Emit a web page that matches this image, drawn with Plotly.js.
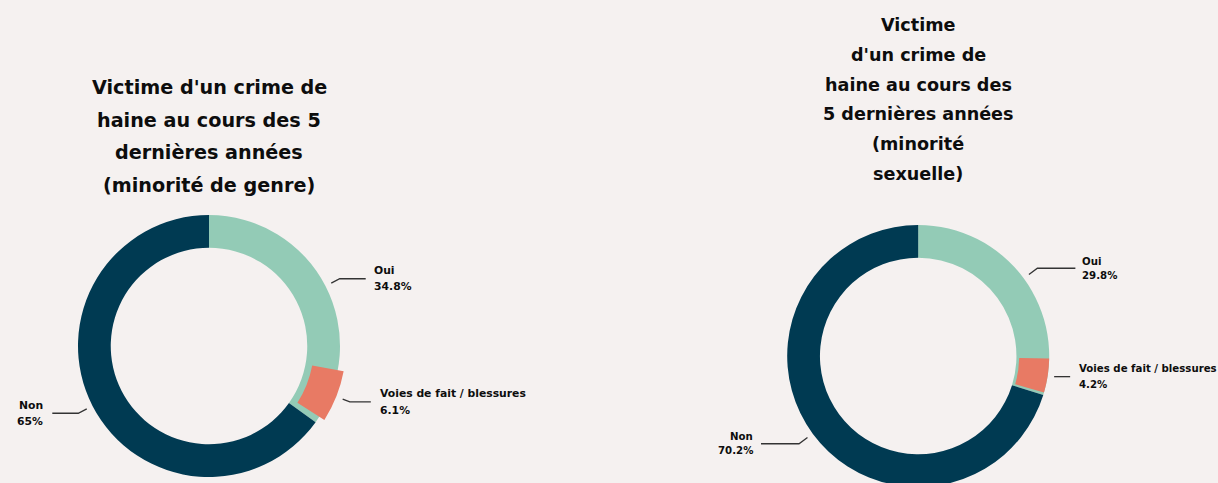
<!DOCTYPE html>
<html>
<head>
<meta charset="utf-8">
<script src="https://cdn.plot.ly/plotly-3.0.1.min.js"></script>
<style>
html,body{margin:0;padding:0;background:#f5f1f0;overflow:hidden;}
#chart{width:1218px;height:490px;}
</style>
</head>
<body>
<div id="chart"></div>
<script>
// ---- data ----
const categories = ['Oui', 'Non'];
const subCategory = 'Voies de fait / blessures';
const genreValues = [34.8, 65];
const genreSub = 6.1;
const sexuelleValues = [29.8, 70.2];
const sexuelleSub = 4.2;
const genreTitle = ["Victime d'un crime de", "haine au cours des 5", "dernières années", "(minorité de genre)"];
const sexuelleTitle = ["Victime", "d'un crime de", "haine au cours des", "5 dernières années", "(minorité", "sexuelle)"];

// ---- style ----
const W = 1218, H = 490;
const COL = {oui: '#93cbb6', non: '#003a52', sub: '#e87a64', text: '#0d0d0d', line: '#333333', bg: '#f5f1f0'};
const FONT = 'DejaVu Sans, Verdana, sans-serif';
const px = x => x / W;
const py = y => 1 - y / H;

const charts = [
  {values: genreValues, sub: genreSub, title: genreTitle,
   cx: 209, cy: 346, R: 131, hole: 0.75, subR: 137, subInner: 105, gap: 0.8,
   titleY0: 88, titleStep: 32.5, titleSize: 19.2, labelSize: 10.8,
   leaders: [{so: 6.5, eo: 16, h: 26, g: 6.5, d: 8}, {so: 6.5, eo: 16, h: 26, g: 7, d: 8}, {so: 6.8, eo: 14.5, h: 21, g: 7, d: 8.5}]},
  {values: sexuelleValues, sub: sexuelleSub, title: sexuelleTitle,
   cx: 918.2, cy: 356, R: 131, hole: 0.75, subR: 131, subInner: 101, gap: 0.3,
   titleY0: 25, titleStep: 29.8, titleSize: 17.6, labelSize: 10.2,
   leaders: [{so: 6.5, eo: 17, h: 38, g: 5, d: 7}, {so: 6.5, eo: 17, h: 38, g: 6.5, d: 7}, {so: 6.5, eo: 6.5, h: 16, g: 6.5, d: 8.3}]}
];

const traces = [], annotations = [], shapes = [];
const fmt = v => v + '%';

charts.forEach(c => {
  const total = c.values[0] + c.values[1];
  traces.push({
    type: 'pie', values: c.values, labels: categories, sort: false, direction: 'clockwise', rotation: 0,
    hole: c.hole, textinfo: 'none', hoverinfo: 'label+value', showlegend: false,
    marker: {colors: [COL.oui, COL.non], line: {width: 0}},
    domain: {x: [px(c.cx - c.R), px(c.cx + c.R)], y: [py(c.cy + c.R), py(c.cy - c.R)]}
  });
  const offset = c.values[0] - c.gap - c.sub;
  traces.push({
    type: 'pie', values: [offset, c.sub, total - offset - c.sub], labels: ['a', subCategory, 'b'],
    sort: false, direction: 'clockwise', rotation: 0, hole: c.subInner / c.subR,
    textinfo: 'none', hoverinfo: 'skip', showlegend: false,
    marker: {colors: ['rgba(0,0,0,0)', COL.sub, 'rgba(0,0,0,0)'], line: {width: 0}},
    domain: {x: [px(c.cx - c.subR), px(c.cx + c.subR)], y: [py(c.cy + c.subR), py(c.cy - c.subR)]}
  });

  // title lines
  c.title.forEach((t, i) => {
    annotations.push({xref: 'paper', yref: 'paper', x: px(c.cx), y: py(c.titleY0 + i * c.titleStep),
      xanchor: 'center', yanchor: 'middle', showarrow: false, text: '<b>' + t + '</b>',
      font: {family: FONT, size: c.titleSize, color: COL.text}});
  });

  // labels with leaders
  const items = [
    {name: categories[0], val: c.values[0], mid: c.values[0] / 2 / total, r: c.R},
    {name: categories[1], val: c.values[1], mid: (c.values[0] + c.values[1] / 2) / total, r: c.R},
    {name: subCategory, val: c.sub, mid: (offset + c.sub / 2) / total, r: c.subR}
  ];
  items.forEach((it, k) => {
    const L = c.leaders[k];
    const a = it.mid * 2 * Math.PI;
    const s = Math.sin(a), co = Math.cos(a);
    const side = s >= 0 ? 1 : -1;
    const x0 = c.cx + (it.r + L.so) * s, y0 = c.cy - (it.r + L.so) * co;
    const x1 = c.cx + (it.r + L.eo) * s, y1 = c.cy - (it.r + L.eo) * co;
    const x2 = x1 + side * L.h;
    shapes.push({type: 'path', xref: 'paper', yref: 'paper',
      path: `M ${px(x0)},${py(y0)} L ${px(x1)},${py(y1)} L ${px(x2)},${py(y1)}`,
      line: {color: COL.line, width: 1.3}});
    const tx = x2 + side * L.g;
    const anchor = side > 0 ? 'left' : 'right';
    annotations.push({xref: 'paper', yref: 'paper', x: px(tx), y: py(y1 - L.d), xanchor: anchor, yanchor: 'middle',
      showarrow: false, text: '<b>' + it.name + '</b>', font: {family: FONT, size: c.labelSize, color: COL.text}});
    annotations.push({xref: 'paper', yref: 'paper', x: px(tx), y: py(y1 + L.d), xanchor: anchor, yanchor: 'middle',
      showarrow: false, text: '<b>' + fmt(it.val) + '</b>', font: {family: FONT, size: c.labelSize, color: COL.text}});
  });
});

Plotly.newPlot('chart', traces, {
  width: W, height: H, margin: {l: 0, r: 0, t: 0, b: 0},
  paper_bgcolor: COL.bg, plot_bgcolor: COL.bg, showlegend: false,
  annotations: annotations, shapes: shapes
}, {displayModeBar: false, staticPlot: true});
</script>
</body>
</html>
